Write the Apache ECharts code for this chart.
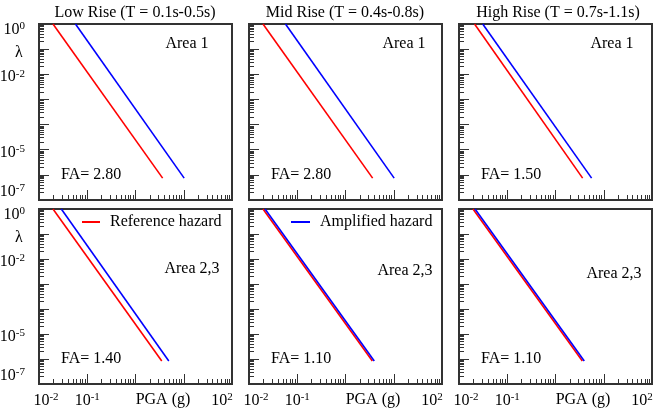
<!DOCTYPE html>
<html>
<head>
<meta charset="utf-8">
<script src="https://cdn.jsdelivr.net/npm/echarts@6/dist/echarts.min.js"></script>
<style>
  html, body { margin: 0; padding: 0; background: #fff; }
  #main { width: 655px; height: 416px; }
</style>
</head>
<body>
<div id="main"></div>
<script>
// panels: top row = Area 1, bottom row = Area 2,3 ; columns = low / mid / high rise
var columnTitles = ['Low Rise (T = 0.1s-0.5s)', 'Mid Rise (T = 0.4s-0.8s)', 'High Rise (T = 0.7s-1.1s)'];
var areaLabels = ['Area 1', 'Area 1', 'Area 1', 'Area 2,3', 'Area 2,3', 'Area 2,3'];
var faLabels = ['2.80', '2.80', '1.50', '1.40', '1.10', '1.10'];

// end points of the (straight on log-log) hazard curves, PGA in g
var refPGA = [[0.0195, 3.65], [0.0195, 3.65], [0.021, 3.65], [0.0195, 3.5], [0.0195, 3.6], [0.0195, 3.6]];
var refRate = [[1, 7.4e-7], [1, 7.4e-7], [1, 7.4e-7], [1, 8.3e-7], [1, 8.3e-7], [1, 8.3e-7]];
var ampPGA = [[0.057, 10.2], [0.057, 10.2], [0.031, 5.6], [0.029, 4.9], [0.0215, 3.95], [0.0215, 3.95]];
var ampRate = [[1, 7.4e-7], [1, 7.4e-7], [1, 7.4e-7], [1, 8.3e-7], [1, 8.3e-7], [1, 8.3e-7]];

// labelled decades
var xTickExp = [-2, -1, 2];
var yTickExp = [0, -2, -5, -7];
// log10(2..9) in hundredths of a decade, for the minor ticks
var minorFrac = [30, 48, 60, 70, 78, 85, 90, 95];

var FONT = 'Liberation Serif';
var gridLeft = [39, 249, 459], gridTop = [24, 209], gridH = [176, 175], gridW = 193;

// tick positions in hundredths of a decade
function cats(lo, hi) {
    var a = [];
    for (var i = lo * 100; i <= hi * 100; i++) a.push(String(i));
    return a;
}
var xCats = cats(-2, 2), yCats = cats(-7, 0);

function isMajor(i, v) { return (+v) % 100 === 0; }
function isMinor(i, v) { return minorFrac.indexOf((((+v) % 100) + 100) % 100) >= 0; }

function base(pad) { return { fontFamily: FONT, fontSize: 16, color: '#000', lineHeight: 18, padding: pad }; }
function sup(pad) { return { fontFamily: FONT, fontSize: 11, color: '#000', lineHeight: 12, verticalAlign: 'top', padding: pad }; }
function gap(h) { return { fontSize: 1, lineHeight: h }; }

var xRich = {
    b: base([0, 0, 0, 0]), s: sup([0, 0, 0, 0]),
    bl: base([0, 0, 0, 14]), sr: sup([0, 20, 0, 0])
};
var yRich = {
    b: base([0, 0, 0, 0]), s: sup([0, 0, 0, 0]),
    gm: gap(6), gt: gap(12), gb: gap(16)
};

function xFmt(v) {
    var e = Math.round(+v / 100);
    if (e === -2) return '{bl|10}{s|' + e + '}';
    if (e === 2) return '{b|10}{sr|' + e + '}';
    return '{b|10}{s|' + e + '}';
}
function yFmt(v) {
    var e = Math.round(+v / 100);
    var lab = '{b|10}{s|' + e + '}';
    if (e === 0) return '{gt| }\n' + lab;
    if (e === -7) return lab + '\n{gb| }';
    return '{gm| }\n' + lab;
}

var grids = [], xAxes = [], yAxes = [], series = [], graphics = [];
var tickColor = '#333';

for (var p = 0; p < 6; p++) {
    var r = Math.floor(p / 3), c = p % 3;
    grids.push({
        left: gridLeft[c], top: gridTop[r], width: gridW, height: gridH[r],
        outerBoundsMode: 'none', containLabel: false,
        show: true, borderColor: '#333', borderWidth: 2, backgroundColor: 'transparent'
    });

    xAxes.push({ type: 'log', gridIndex: p, min: 0.01, max: 100, show: false, position: 'bottom' });
    xAxes.push({
        type: 'category', gridIndex: p, data: xCats, boundaryGap: false, position: 'bottom',
        axisLine: { show: false, onZero: false },
        axisTick: { inside: true, length: 10, interval: isMajor, lineStyle: { color: tickColor } },
        axisLabel: {
            show: r === 1, margin: 8, hideOverlap: false,
            interval: function (i, v) { return (+v) % 100 === 0 && xTickExp.indexOf(+v / 100) >= 0; },
            formatter: xFmt, rich: xRich
        },
        splitLine: { show: false }
    });
    xAxes.push({
        type: 'category', gridIndex: p, data: xCats, boundaryGap: false, position: 'bottom',
        axisLine: { show: false, onZero: false },
        axisTick: { inside: true, length: 5, interval: isMinor, lineStyle: { color: tickColor } },
        axisLabel: { show: false }, splitLine: { show: false }
    });

    yAxes.push({ type: 'log', gridIndex: p, min: 1e-7, max: 1, show: false, position: 'left' });
    yAxes.push({
        type: 'category', gridIndex: p, data: yCats, boundaryGap: false, position: 'left',
        axisLine: { show: false, onZero: false },
        axisTick: { inside: true, length: 10, interval: isMajor, lineStyle: { color: tickColor } },
        axisLabel: {
            show: c === 0, margin: 14, hideOverlap: false,
            interval: function (i, v) { return (+v) % 100 === 0 && yTickExp.indexOf(+v / 100) >= 0; },
            formatter: yFmt, rich: yRich
        },
        splitLine: { show: false }
    });
    yAxes.push({
        type: 'category', gridIndex: p, data: yCats, boundaryGap: false, position: 'left',
        axisLine: { show: false, onZero: false },
        axisTick: { inside: true, length: 5, interval: isMinor, lineStyle: { color: tickColor } },
        axisLabel: { show: false }, splitLine: { show: false }
    });

    series.push({
        type: 'line', name: 'Reference hazard', xAxisIndex: p * 3, yAxisIndex: p * 3,
        data: [[refPGA[p][0], refRate[p][0]], [refPGA[p][1], refRate[p][1]]],
        showSymbol: false, silent: true,
        lineStyle: { color: '#ff0000', width: 1.6 }, itemStyle: { color: '#ff0000' }
    });
    series.push({
        type: 'line', name: 'Amplified hazard', xAxisIndex: p * 3, yAxisIndex: p * 3,
        data: [[ampPGA[p][0], ampRate[p][0]], [ampPGA[p][1], ampRate[p][1]]],
        showSymbol: false, silent: true,
        lineStyle: { color: '#0000ff', width: 1.6 }, itemStyle: { color: '#0000ff' }
    });
}

function txt(x, y, s, align) {
    graphics.push({
        type: 'text', x: x, y: y, silent: true,
        style: { text: s, font: '16px "' + FONT + '"', fill: '#000', align: align || 'center', verticalAlign: 'middle' }
    });
}

var titleX = [135, 345, 558];
var areaX = [187, 404, 612, 192, 405, 614], areaY = [44, 44, 44, 269, 271, 274];
var faY = [175, 359];
for (var k = 0; k < 3; k++) {
    txt(titleX[k], 13, columnTitles[k]);
    txt(gridLeft[k] + 124, 400, 'PGA (g)');
}
for (var q = 0; q < 6; q++) {
    txt(areaX[q], areaY[q], areaLabels[q]);
    txt(gridLeft[q % 3] + 22, faY[Math.floor(q / 3)], 'FA= ' + faLabels[q], 'left');
}
txt(19, 53, 'λ');
txt(19, 238, 'λ');

var legendText = { fontFamily: FONT, fontSize: 16, color: '#000', padding: [0, 0, 0, 5] };
var myChart = echarts.init(document.getElementById('main'));
myChart.setOption({
    animation: false,
    backgroundColor: '#fff',
    grid: grids,
    xAxis: xAxes,
    yAxis: yAxes,
    legend: [
        { data: ['Reference hazard'], left: 82, top: 214, padding: 0, icon: 'rect', itemWidth: 18, itemHeight: 2, textStyle: legendText, selectedMode: false },
        { data: ['Amplified hazard'], left: 291, top: 214, padding: 0, icon: 'rect', itemWidth: 19, itemHeight: 2, textStyle: legendText, selectedMode: false }
    ],
    graphic: graphics,
    series: series
});
</script>
</body>
</html>
